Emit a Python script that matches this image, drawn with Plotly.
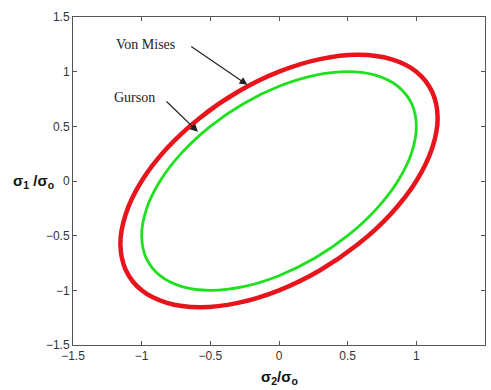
import plotly.graph_objects as go

# Yield surfaces in the principal-stress plane (x = sigma2/sigma_o, y = sigma1/sigma_o)
von_mises_s2 = [-0.577, -0.816, -1.000, -1.115, -1.155, -1.115, -1.000, -0.816, -0.577, -0.299,
                0.000, 0.299, 0.577, 0.816, 1.000, 1.115, 1.155, 1.115, 1.000, 0.816, 0.577,
                0.299, 0.000, -0.299, -0.577]
von_mises_s1 = [0.577, 0.299, 0.000, -0.299, -0.577, -0.816, -1.000, -1.115, -1.155, -1.115,
                -1.000, -0.816, -0.577, -0.299, 0.000, 0.299, 0.577, 0.816, 1.000, 1.115, 1.155,
                1.115, 1.000, 0.816, 0.577]

gurson_s2 = [-0.500, -0.707, -0.866, -0.966, -1.000, -0.966, -0.866, -0.707, -0.500, -0.259,
             0.000, 0.259, 0.500, 0.707, 0.866, 0.966, 1.000, 0.966, 0.866, 0.707, 0.500,
             0.259, 0.000, -0.259, -0.500]
gurson_s1 = [0.500, 0.259, 0.000, -0.259, -0.500, -0.707, -0.866, -0.966, -1.000, -0.966,
             -0.866, -0.707, -0.500, -0.259, 0.000, 0.259, 0.500, 0.707, 0.866, 0.966, 1.000,
             0.966, 0.866, 0.707, 0.500]

tick_vals = [-1.5, -1, -0.5, 0, 0.5, 1, 1.5]

fig = go.Figure()
fig.add_trace(go.Scatter(x=von_mises_s2, y=von_mises_s1, mode="lines",
                         line=dict(color="#e8141c", width=4.5, shape="spline", smoothing=1.0),
                         name="Von Mises", hoverinfo="skip"))
fig.add_trace(go.Scatter(x=gurson_s2, y=gurson_s1, mode="lines",
                         line=dict(color="#1ee01e", width=2.8, shape="spline", smoothing=1.0),
                         name="Gurson", hoverinfo="skip"))

axis_common = dict(
    tickvals=tick_vals,
    ticks="inside", ticklen=4, tickcolor="#555",
    showline=True, linecolor="#555", linewidth=1, mirror="ticks",
    showgrid=False, zeroline=False,
    tickfont=dict(family="Liberation Sans, Arial", size=12, color="#333"),
)

fig.update_xaxes(range=[-1.5, 1.5], **axis_common)
fig.update_yaxes(range=[-1.5, 1.5], **axis_common)

serif = dict(family="Liberation Serif, Times New Roman", size=14, color="#222")

annotations = [
    # curve labels
    dict(x=-0.975, y=1.25, xref="x", yref="y", text="Von Mises", showarrow=False, font=serif),
    dict(x=-1.05, y=0.76, xref="x", yref="y", text="Gurson", showarrow=False, font=serif),
    # arrows pointing at the curves
    dict(x=-0.23, y=0.88, xref="x", yref="y", ax=-0.65, ay=1.24, axref="x", ayref="y",
         text="", showarrow=True, arrowhead=2, arrowsize=1.3, arrowwidth=1.2, arrowcolor="#222"),
    dict(x=-0.59, y=0.45, xref="x", yref="y", ax=-0.83, ay=0.74, axref="x", ayref="y",
         text="", showarrow=True, arrowhead=2, arrowsize=1.3, arrowwidth=1.2, arrowcolor="#222"),
    # axis titles
    dict(x=-0.095, y=0.497, xref="paper", yref="paper", xanchor="center", yanchor="middle",
         text="<b>σ<sub>1</sub> /σ<sub>o</sub></b>", showarrow=False,
         font=dict(family="Liberation Sans, Arial", size=15, color="#111")),
    dict(x=0.502, y=-0.10, xref="paper", yref="paper", xanchor="center", yanchor="middle",
         text="<b>σ<sub>2</sub>/σ<sub>o</sub></b>", showarrow=False,
         font=dict(family="Liberation Sans, Arial", size=15, color="#111")),
]

fig.update_layout(
    width=491, height=390,
    margin=dict(l=73, r=6, t=17, b=45),
    paper_bgcolor="white", plot_bgcolor="white",
    showlegend=False,
    annotations=annotations,
)

fig.write_html("out.html")
